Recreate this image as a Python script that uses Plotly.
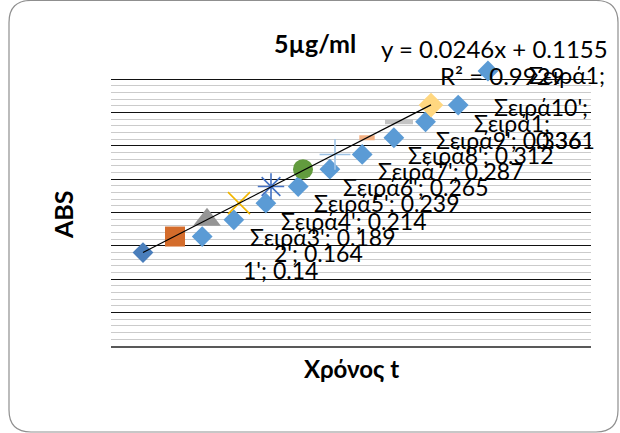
import numpy as np
import plotly.graph_objects as go

# ---- data ----
series_names = ["Σειρά1", "Σειρά2", "Σειρά3", "Σειρά4", "Σειρά5",
                "Σειρά6", "Σειρά7", "Σειρά8", "Σειρά9", "Σειρά10"]
time_x = [1, 2, 3, 4, 5, 6, 7, 8, 9, 10]
abs_values = [0.14, 0.164, 0.189, 0.214, 0.239, 0.265, 0.287, 0.312, 0.336, 0.361]

shift_x = [2.85, 3.84, 4.84, 5.85, 6.84, 7.85, 8.84, 9.83, 10.85, 11.78]
shift_values = [0.164, 0.189, 0.214, 0.239, 0.265, 0.287, 0.312, 0.336, 0.361, 0.412]

marker_symbols = ["diamond", "square", "triangle-up", "x-thin-open", "asterisk-open",
                  "circle", "cross-thin-open", "line-ew-open", "line-ew-open", "diamond"]
marker_colors = ["#4a7ebb", "#d46c2b", "#959595", "#f2b600", "#4472c4",
                 "#629b3e", "#9dc3e6", "#f4b183", "#c4c4c4", "#ffd780"]
marker_sizes = [16, 20, 24, 22, 22, 20, 22, 11, 20, 19]

# axis: gridded region 0 - 0.4, extra headroom so the top point stays visible
grid_top = 0.4
y_top = 0.43
major_vals = [round(v, 2) for v in np.arange(0, grid_top + 1e-9, 0.05)]
minor_vals = [round(v, 2) for v in np.arange(0, grid_top + 1e-9, 0.01)
              if round(v * 100) % 5 != 0]

W, H = 620, 433
L, R, T, B = 111, 29, 59, 87
PW, PH = W - L - R, H - T - B


def px(x):
    return (x - L) / PW


def py(y):
    return (H - B - y) / PH


fig = go.Figure()

# light-blue diamond series
fig.add_trace(go.Scatter(x=shift_x, y=shift_values, mode="markers",
                         marker=dict(symbol="diamond", color="#5b9bd5", size=16),
                         showlegend=False, hoverinfo="skip"))

# the ten single-point series
for i, name in enumerate(series_names):
    sym = marker_symbols[i]
    mk = dict(symbol=sym, color=marker_colors[i], size=marker_sizes[i])
    if sym.endswith("-open"):
        if sym.startswith("line-ew"):
            mk["line"] = dict(color=marker_colors[i], width=5)
        else:
            mk["line"] = dict(color=marker_colors[i], width=1.6)
    fig.add_trace(go.Scatter(x=[time_x[i]], y=[abs_values[i]], mode="markers",
                             marker=mk, name=name, showlegend=False, hoverinfo="skip"))

# linear trendline
slope, intercept = np.polyfit(time_x, abs_values, 1)
tx = np.array([time_x[0], time_x[-1]])
fig.add_trace(go.Scatter(x=tx, y=slope * tx + intercept, mode="lines",
                         line=dict(color="black", width=1.2),
                         showlegend=False, hoverinfo="skip"))

FONT = "Lato"
label_font = dict(family=FONT, size=23, color="black")

# data labels (overlapping as in the original)
labels = [
    ("1'; 0.14", 320, 270),
    ("2'; 0.164", 365, 253),
    ("Σειρά3'; 0.189", 397, 237),
    ("Σειρά4'; 0.214", 428, 221),
    ("Σειρά5'; 0.239", 461, 203),
    ("Σειρά6'; 0.265", 490, 187),
    ("Σειρά7'; 0.287", 525, 171),
    ("Σειρά8'; 0.312", 555, 155),
    ("Σειρά9'; 0.336", 583, 140),
    ("0.361", 597, 140),
    ("Σειρά1;", 552, 123),
    ("Σειρά10';", 590, 107),
    ("Σειρά1;", 607, 75),
]
annotations = []
for txt, xr, yc in labels:
    annotations.append(dict(text=txt, x=px(xr), y=py(yc), xref="paper", yref="paper",
                            xanchor="right", yanchor="middle", showarrow=False,
                            font=label_font))

annotations += [
    dict(text="<b>5µg/ml</b>", x=px(315), y=py(43), xref="paper", yref="paper",
         xanchor="center", yanchor="middle", showarrow=False,
         font=dict(family=FONT, size=25, color="black")),
    dict(text="y = 0.0246x + 0.1155", x=px(610), y=py(48), xref="paper", yref="paper",
         xanchor="right", yanchor="middle", showarrow=False,
         font=dict(family=FONT, size=24, color="black")),
    dict(text="R² = 0.9929", x=px(438), y=py(75), xref="paper", yref="paper",
         xanchor="left", yanchor="middle", showarrow=False,
         font=dict(family=FONT, size=24, color="black")),
    dict(text="<b>ABS</b>", x=px(63), y=py(215), xref="paper", yref="paper",
         xanchor="center", yanchor="middle", showarrow=False, textangle=-90,
         font=dict(family=FONT, size=25, color="black")),
    dict(text="<b>Χρόνος t</b>", x=px(351), y=py(368), xref="paper", yref="paper",
         xanchor="center", yanchor="middle", showarrow=False,
         font=dict(family=FONT, size=24, color="black")),
]

# rounded card border
x0, x1, y0, y1, r = 9, 618, 0.5, 432, 22
path = (f"M {px(x0 + r)} {py(y0)} L {px(x1 - r)} {py(y0)} "
        f"Q {px(x1)} {py(y0)} {px(x1)} {py(y0 + r)} "
        f"L {px(x1)} {py(y1 - r)} Q {px(x1)} {py(y1)} {px(x1 - r)} {py(y1)} "
        f"L {px(x0 + r)} {py(y1)} Q {px(x0)} {py(y1)} {px(x0)} {py(y1 - r)} "
        f"L {px(x0)} {py(y0 + r)} Q {px(x0)} {py(y0)} {px(x0 + r)} {py(y0)} Z")

fig.update_layout(
    width=W, height=H,
    margin=dict(l=L, r=R, t=T, b=B, pad=0),
    paper_bgcolor="white", plot_bgcolor="white",
    annotations=annotations,
    shapes=[dict(type="path", path=path, xref="paper", yref="paper",
                 line=dict(color="#8f8f8f", width=1.2), layer="below")],
    xaxis=dict(range=[0, 15], showgrid=False, showticklabels=False, ticks="",
               zeroline=False, showline=True, linecolor="#595959", linewidth=2),
    yaxis=dict(range=[0, y_top], tickmode="array", tickvals=major_vals,
               showgrid=True, gridcolor="#111111",
               gridwidth=1.2, showticklabels=False, ticks="", zeroline=False,
               showline=False,
               minor=dict(tickmode="array", tickvals=minor_vals, showgrid=True,
                          gridcolor="#cbcbcb", gridwidth=1.3, ticks="")),
)

fig.write_html("out.html", config={"displayModeBar": False},
               post_script="document.body.style.margin='0px';")
